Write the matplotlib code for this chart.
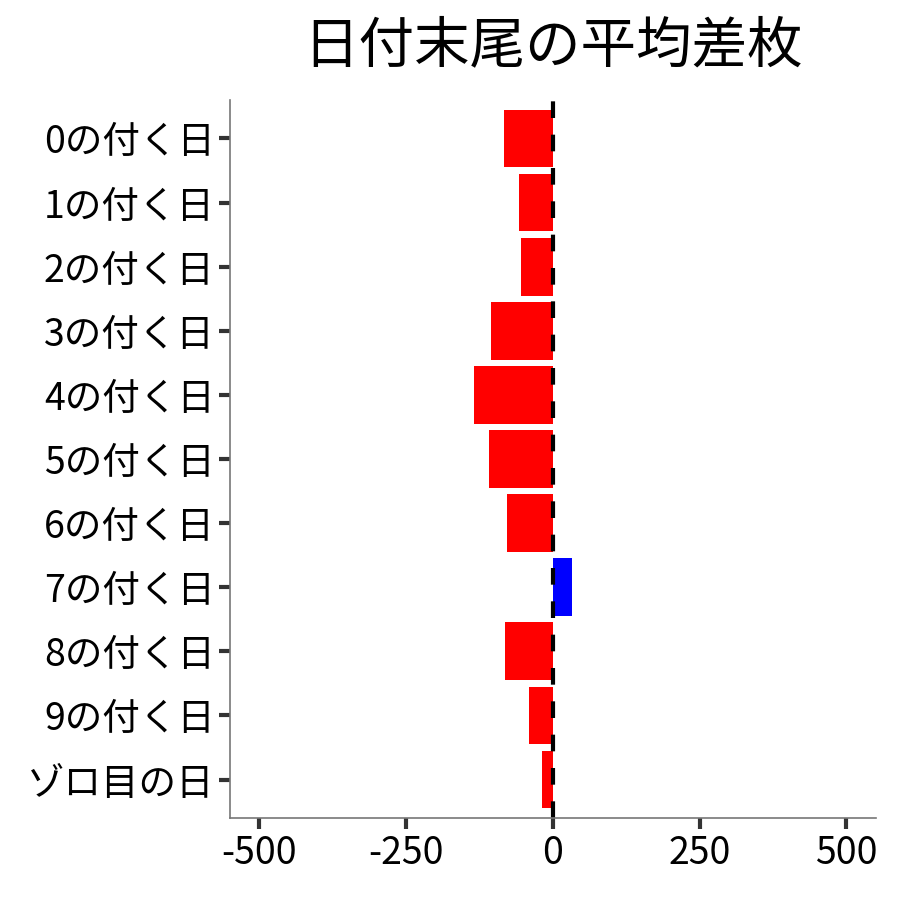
import matplotlib
matplotlib.use('Agg')
import matplotlib.pyplot as plt

plt.rcParams['font.family'] = ['Noto Sans CJK JP', 'DejaVu Sans']

labels = ['0の付く日', '1の付く日', '2の付く日', '3の付く日', '4の付く日', '5の付く日',
          '6の付く日', '7の付く日', '8の付く日', '9の付く日', 'ゾロ目の日']
diffs = [-83, -58, -54, -105, -134, -109, -78, 32, -82, -41, -19]
xticks = [-500, -250, 0, 250, 500]

colors = ['blue' if d > 0 else 'red' for d in diffs]
ypos = list(range(len(labels)))[::-1]

fig = plt.figure(figsize=(9, 9), dpi=100)
ax = fig.add_axes([0.2556, 0.0911, 0.7174, 0.7978])

ax.barh(ypos, diffs, height=0.9, color=colors)
ax.axvline(0, color='black', linestyle=(0, (4, 4)), linewidth=3)

ax.set_xlim(-550, 550)
ax.set_ylim(-0.6, len(labels) - 0.4)
ax.set_xticks(xticks)
ax.set_xticklabels([str(t) for t in xticks])
ax.set_yticks(ypos)
ax.set_yticklabels(labels)
ax.tick_params(labelsize=27, length=8, width=3, color='#333333', labelcolor='black')
ax.tick_params(axis='y', pad=3)

for s in ['top', 'right']:
    ax.spines[s].set_visible(False)
for s in ['left', 'bottom']:
    ax.spines[s].set_color('#777777')
    ax.spines[s].set_linewidth(1.2)

fig.suptitle('日付末尾の平均差枚', x=0.614, y=0.98, fontsize=40)

fig.savefig('out.png', dpi=100)
